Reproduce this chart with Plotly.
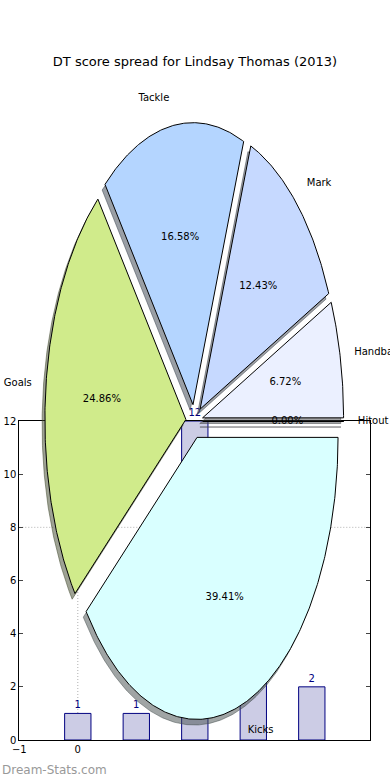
import numpy as np
import plotly.graph_objects as go

# ---- data ----
title = "DT score spread for Lindsay Thomas (2013)"
pie_labels = ["Hitout", "Handball", "Mark", "Tackle", "Goals", "Kicks"]
pie_values = [0.00, 6.72, 12.43, 16.58, 24.86, 39.41]
pie_colors = ["#F2F2FF", "#EBF0FF", "#C6D9FF", "#B4D5FF", "#D0EB8B", "#D9FFFF"]

bar_x = [0, 1, 2, 3, 4]
bar_values = [1, 1, 12, 5, 2]
x_tickvals = [-1, 0]
x_ticktext = ["\u22121", "0"]
y_tickvals = [0, 2, 4, 6, 8, 10, 12]
grid_y = [8]
grid_x = [0]

explode = 0.06
shadow_off = (-0.02, -0.02)
label_dist = 1.1
pct_dist = 0.6

W, H = 390, 780
# pie frame (unit circle mapped to an ellipse)
cx_px, cy_px, rx_px, ry_px = 194.3, 421.4, 141.0, 282.0
px_range = [-cx_px / rx_px, (W - cx_px) / rx_px]
py_range = [-(H - cy_px) / ry_px, cy_px / ry_px]

FONT = "DejaVu Sans"
fig = go.Figure()

# ---- bars (main axes) ----
fig.add_trace(go.Bar(
    x=bar_x, y=bar_values, width=0.45,
    marker=dict(color="#CCCCE5", line=dict(color="#000080", width=1)),
    text=[str(v) for v in bar_values], textposition="outside",
    textfont=dict(color="#000080", size=10, family=FONT),
    cliponaxis=False, showlegend=False, hoverinfo="skip",
    xaxis="x", yaxis="y",
))

# ---- pie wedges (second, full-figure axes) ----
total = sum(pie_values)
angles = np.cumsum([0] + [v / total * 360 for v in pie_values])
wedges = []
for i, v in enumerate(pie_values):
    t1, t2 = angles[i], angles[i + 1]
    mid = np.deg2rad((t1 + t2) / 2)
    ox, oy = explode * np.cos(mid), explode * np.sin(mid)
    n = max(2, int(abs(t2 - t1) * 2) + 2)
    th = np.deg2rad(np.linspace(t1, t2, n))
    xs = np.concatenate([[ox], ox + np.cos(th), [ox]])
    ys = np.concatenate([[oy], oy + np.sin(th), [oy]])
    wedges.append((xs, ys, ox, oy, mid))

def hex_rgb(h):
    h = h.lstrip("#")
    return [int(h[k:k + 2], 16) for k in (0, 2, 4)]

# shadows first
for i, (xs, ys, ox, oy, mid) in enumerate(wedges):
    r, g, b = [int(c * 0.3) for c in hex_rgb(pie_colors[i])]
    col = f"rgba({r},{g},{b},0.5)"
    fig.add_trace(go.Scatter(
        x=xs + shadow_off[0], y=ys + shadow_off[1], mode="lines",
        fill="toself", fillcolor=col, line=dict(color=col, width=1),
        showlegend=False, hoverinfo="skip", xaxis="x2", yaxis="y2",
    ))
for i, (xs, ys, ox, oy, mid) in enumerate(wedges):
    fig.add_trace(go.Scatter(
        x=xs, y=ys, mode="lines", fill="toself", fillcolor=pie_colors[i],
        line=dict(color="black", width=1),
        showlegend=False, hoverinfo="skip", xaxis="x2", yaxis="y2",
    ))

# labels
for i, (xs, ys, ox, oy, mid) in enumerate(wedges):
    lx = ox + label_dist * np.cos(mid)
    ly = oy + label_dist * np.sin(mid)
    pos = "middle right" if lx > 0 else "middle left"
    fig.add_trace(go.Scatter(
        x=[lx], y=[ly], mode="text", text=[pie_labels[i]], textposition=pos,
        textfont=dict(size=10, family=FONT, color="black"),
        showlegend=False, hoverinfo="skip", xaxis="x2", yaxis="y2", cliponaxis=False,
    ))
    px_ = ox + pct_dist * np.cos(mid)
    py_ = oy + pct_dist * np.sin(mid)
    fig.add_trace(go.Scatter(
        x=[px_], y=[py_], mode="text", text=[f"{pie_values[i] / total * 100:.2f}%"],
        textposition="middle center",
        textfont=dict(size=10, family=FONT, color="black"),
        showlegend=False, hoverinfo="skip", xaxis="x2", yaxis="y2", cliponaxis=False,
    ))

# gridlines (dotted) below traces
for gy in grid_y:
    fig.add_shape(type="line", xref="x", yref="y", x0=-1, x1=5, y0=gy, y1=gy,
                  line=dict(color="#b0b0b0", width=1, dash="1px,2px"), layer="below")
for gx in grid_x:
    fig.add_shape(type="line", xref="x", yref="y", x0=gx, x1=gx, y0=0, y1=12,
                  line=dict(color="#b0b0b0", width=1, dash="1px,2px"), layer="below")

x0p, x1p = 19.3 / W, 370.3 / W
y0p, y1p = (H - 740) / H, (H - 421) / H

fig.update_layout(
    width=W, height=H, template="none",
    margin=dict(l=0, r=0, t=0, b=0, pad=0),
    paper_bgcolor="white", plot_bgcolor="rgba(0,0,0,0)",
    font=dict(family=FONT, size=10, color="black"),
    title=dict(text=title, x=0.5, xanchor="center", y=1 - 61 / H, yanchor="middle",
               yref="container", font=dict(size=13, family=FONT, color="black")),
    xaxis=dict(domain=[x0p, x1p], range=[-1, 5], tickmode="array",
               tickvals=x_tickvals, ticktext=x_ticktext, ticks="inside", ticklen=4,
               showline=True, linecolor="black", linewidth=1, mirror="ticks",
               showgrid=False, zeroline=False, layer="below traces",
               automargin=False, tickfont=dict(size=10, family=FONT), anchor="y"),
    yaxis=dict(domain=[y0p, y1p], range=[0, 12], tickmode="array",
               tickvals=y_tickvals, ticks="inside", ticklen=4,
               showline=True, linecolor="black", linewidth=1, mirror="ticks",
               showgrid=False, zeroline=False, layer="below traces",
               automargin=False, tickfont=dict(size=10, family=FONT), anchor="x"),
    xaxis2=dict(domain=[0, 1], range=px_range, anchor="y2",
                visible=False, showgrid=False, zeroline=False, automargin=False),
    yaxis2=dict(domain=[0, 1], range=py_range, anchor="x2",
                visible=False, showgrid=False, zeroline=False, automargin=False),
    annotations=[dict(text="Dream-Stats.com", xref="paper", yref="paper",
                      x=0, y=(H - 770) / H, xanchor="left", yanchor="middle",
                      showarrow=False, font=dict(size=12, family=FONT, color="#999999"))],
    showlegend=False,
)

fig.write_html("out.html", config={"displayModeBar": False},
               post_script="document.body.style.margin='0px';")
